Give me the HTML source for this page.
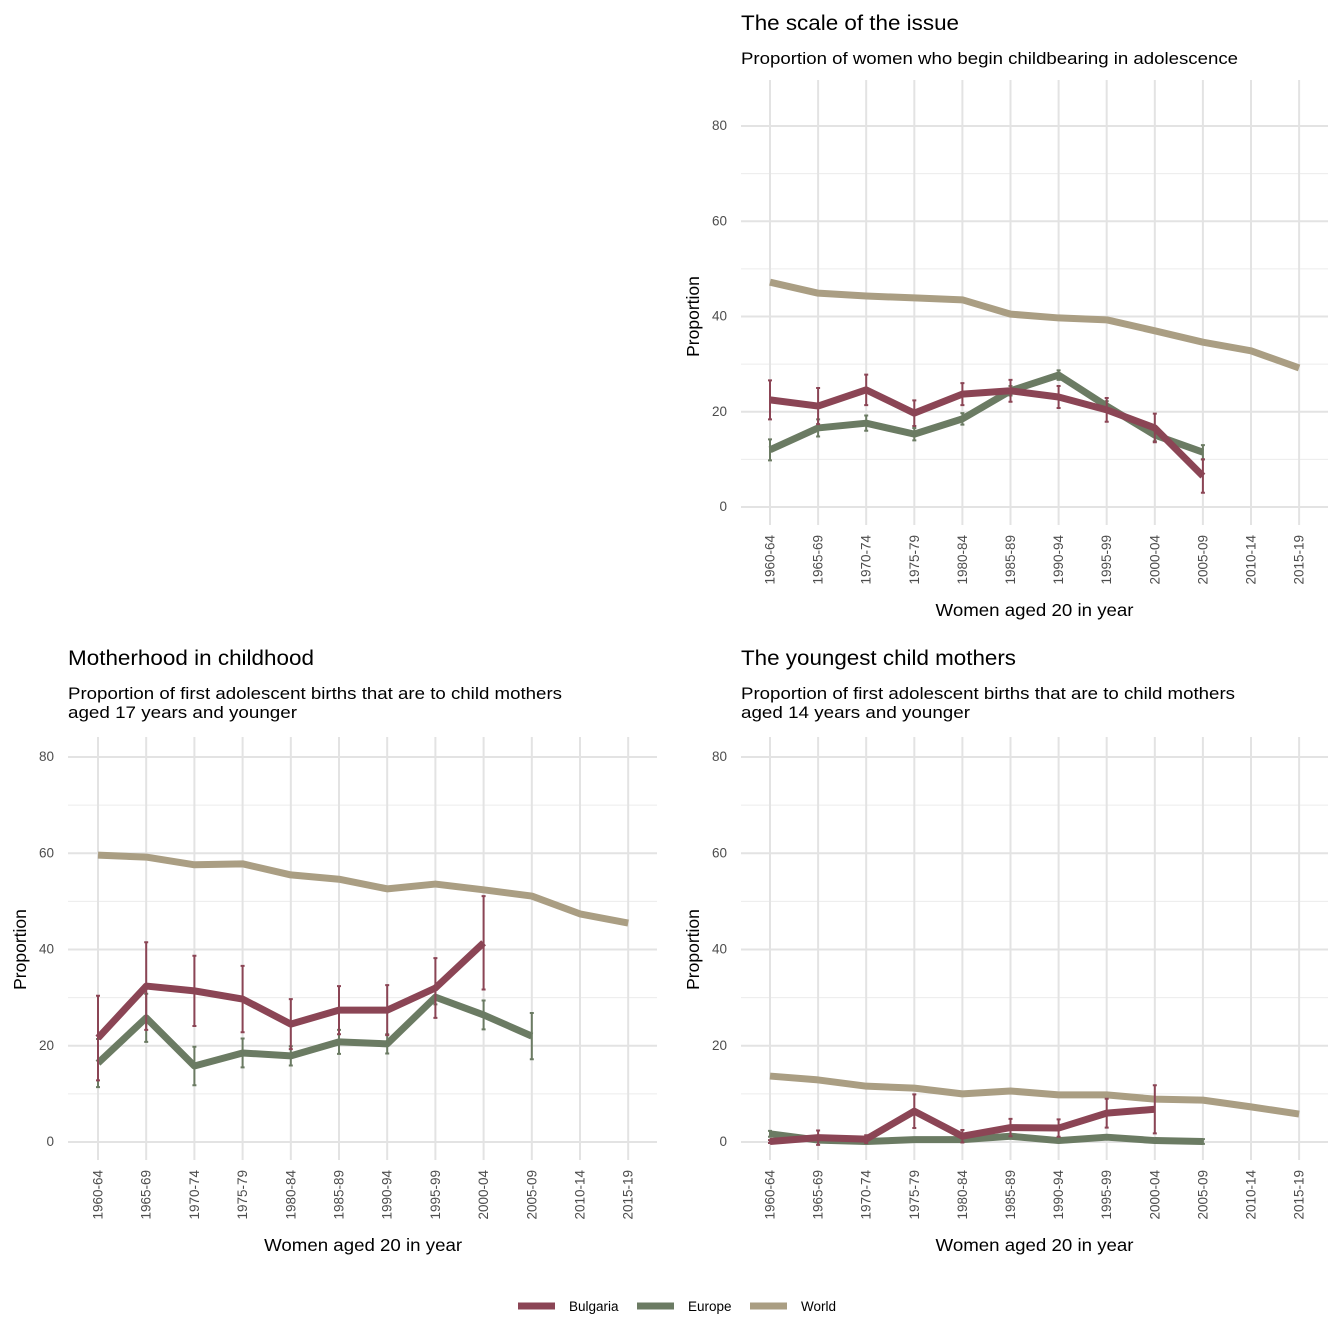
<!DOCTYPE html>
<html><head><meta charset="utf-8"><style>
body{margin:0;background:#fff;font-family:"Liberation Sans",Arial,sans-serif}
svg{display:block}
</style></head><body>
<svg id="c" width="1344" height="1344" xmlns="http://www.w3.org/2000/svg"></svg>
<script>
const categories=["1960-64","1965-69","1970-74","1975-79","1980-84","1985-89","1990-94","1995-99","2000-04","2005-09","2010-14","2015-19"];
const yTicks=[0,20,40,60,80];
// Panel 1: scale of the issue
const p1World=[47.2,44.9,44.3,43.9,43.5,40.5,39.7,39.3,37.0,34.6,32.8,29.2];
const p1Bulgaria=[22.5,21.2,24.6,19.7,23.7,24.4,23.1,20.4,16.6,6.5];
const p1BulgariaErr=[4.1,3.8,3.2,2.7,2.3,2.3,2.3,2.5,3.0,3.5];
const p1Europe=[12.0,16.6,17.6,15.3,18.5,24.4,27.7,21.2,15.1,11.5];
const p1EuropeErr=[2.2,1.8,1.6,1.3,1.2,1.0,1.0,1.0,1.3,1.5];
// Panel 2: motherhood in childhood
const p2World=[59.6,59.2,57.6,57.8,55.5,54.6,52.6,53.6,52.4,51.1,47.4,45.5];
const p2Bulgaria=[21.6,32.4,31.4,29.7,24.5,27.4,27.4,32.0,41.4];
const p2BulgariaErr=[8.8,9.1,7.3,6.9,5.2,5.0,5.2,6.2,9.7];
const p2Europe=[16.4,25.8,15.8,18.5,17.9,20.8,20.4,30.1,26.4,22.0];
const p2EuropeErr=[5.0,5.0,4.0,3.0,2.0,2.5,2.0,1.5,3.0,4.8];
// Panel 3: youngest child mothers
const p3World=[13.7,12.9,11.6,11.2,10.0,10.6,9.8,9.8,8.9,8.7,7.3,5.8];
const p3Bulgaria=[0.1,0.9,0.6,6.4,1.2,3.0,2.9,6.0,6.8];
const p3BulgariaErr=[0.3,1.5,0.8,3.5,1.3,1.8,1.8,3.0,5.0];
const p3Europe=[1.7,0.4,0.1,0.5,0.5,1.2,0.3,1.0,0.3,0.1];
const p3EuropeErr=[0.6,0.3,0.2,0.3,0.3,0.4,0.3,0.3,0.3,0.5];

const COL={Bulgaria:"#8b4555",Europe:"#6b7b63",World:"#aa9e83"};
const svg=document.getElementById('c');
const NS="http://www.w3.org/2000/svg";
function mk(tag,attrs,parent,text){const e=document.createElementNS(NS,tag);for(const k in attrs)e.setAttribute(k,attrs[k]);if(text!==undefined)e.textContent=text;(parent||svg).appendChild(e);return e;}

function panel(o){
  const g=mk('g',{});
  
  
  const x=i=>o.x0+i*o.dx;
  const y=v=>o.y0-v*o.sy;
  for(let v=10;v<=70;v+=20){const l=mk('line',{x1:o.left,x2:o.right,y1:y(v),y2:y(v),stroke:'#ececec','stroke-width':1},g);}
  yTicks.forEach(v=>{const l=mk('line',{x1:o.left,x2:o.right,y1:y(v),y2:y(v),stroke:'#e3e3e3','stroke-width':2},g);
    const t=mk('text',{x:o.left-14,y:y(v)+4,'text-anchor':'end','font-size':13.5,fill:'#4d4d4d'},g,String(v));});
  categories.forEach((c,i)=>{const l=mk('line',{x1:x(i),x2:x(i),y1:o.top,y2:o.bottom,stroke:'#e3e3e3','stroke-width':2},g);
    const t=mk('text',{x:0,y:0,'text-anchor':'end','font-size':13.5,fill:'#4d4d4d',transform:`translate(${x(i)+4.5},${o.bottom+10}) rotate(-90)`},g,c);});
  const series=[['World',o.world,null],['Europe',o.europe,o.europeErr],['Bulgaria',o.bulgaria,o.bulgariaErr]];
  series.forEach(([nm,vals,err])=>{
    const pts=vals.map((v,i)=>x(i)+','+y(v)).join(' ');
    const pl=mk('polyline',{points:pts,fill:'none',stroke:COL[nm],'stroke-width':7,'stroke-linejoin':'round'},g);
    
    
    if(err){vals.forEach((v,i)=>{const e=err[i];
      const eb=mk('path',{d:`M${x(i)},${y(v+e)}V${y(v-e)}M${x(i)-2},${y(v+e)}h4M${x(i)-2},${y(v-e)}h4`,stroke:COL[nm],'stroke-width':2,fill:'none'},g);
      
      });}
  });
  const t1=mk('text',{x:o.left,y:o.titleY,'font-size':21,fill:'#000',textLength:o.titleW,lengthAdjust:'spacingAndGlyphs'},g,o.title);
  o.sub.forEach((s,k)=>{const t=mk('text',{x:o.left,y:o.titleY+34+k*19,'font-size':17,fill:'#000',textLength:o.subW[k],lengthAdjust:'spacingAndGlyphs'},g,s);});
  const ya=mk('text',{x:0,y:0,'text-anchor':'middle','font-size':17.5,transform:`translate(${o.left-42},${y(40)}) rotate(-90)`},g,'Proportion');
  const xa=mk('text',{x:(x(0)+x(11))/2,y:o.bottom+91,'text-anchor':'middle','font-size':17.5,textLength:198,lengthAdjust:'spacingAndGlyphs'},g,'Women aged 20 in year');
}
panel({name:'panel-scale-of-issue',x0:770,dx:48.1,y0:507,sy:4.7625,left:741,right:1328,top:80,bottom:525,titleY:30,title:'The scale of the issue',titleW:218,subW:[497],sub:['Proportion of women who begin childbearing in adolescence'],world:p1World,bulgaria:p1Bulgaria,bulgariaErr:p1BulgariaErr,europe:p1Europe,europeErr:p1EuropeErr});
panel({name:'panel-motherhood-in-childhood',x0:98,dx:48.2,y0:1142,sy:4.8125,left:68,right:657,top:737,bottom:1160,titleY:665,title:'Motherhood in childhood',titleW:246,subW:[494,229],sub:['Proportion of first adolescent births that are to child mothers','aged 17 years and younger'],world:p2World,bulgaria:p2Bulgaria,bulgariaErr:p2BulgariaErr,europe:p2Europe,europeErr:p2EuropeErr});
panel({name:'panel-youngest-child-mothers',x0:770,dx:48.1,y0:1142,sy:4.8125,left:741,right:1328,top:737,bottom:1160,titleY:665,title:'The youngest child mothers',titleW:275,subW:[494,229],sub:['Proportion of first adolescent births that are to child mothers','aged 14 years and younger'],world:p3World,bulgaria:p3Bulgaria,bulgariaErr:p3BulgariaErr,europe:p3Europe,europeErr:p3EuropeErr});
const legendNames=['Bulgaria','Europe','World'];
const legendX=[518,637,750];
legendNames.forEach((n,i)=>{
  const g=mk('g',{});
  
  
  mk('line',{x1:legendX[i],x2:legendX[i]+37,y1:1306,y2:1306,stroke:COL[n],'stroke-width':7},g);
  mk('text',{x:legendX[i]+51,y:1311,'font-size':13.5},g,n);
});
</script>
</body></html>
